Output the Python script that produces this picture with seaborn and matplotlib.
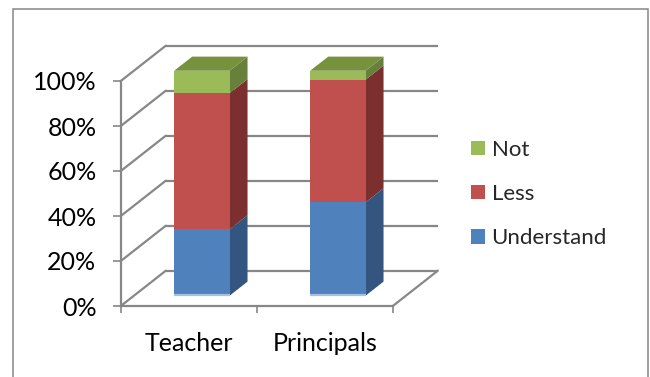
import matplotlib
matplotlib.use("Agg")
import matplotlib.pyplot as plt
import numpy as np
import pandas as pd
import seaborn as sns
from matplotlib.patches import Polygon, Rectangle
from matplotlib.transforms import Affine2D

# ---- data -------------------------------------------------------------
groups = ["Teacher", "Principals"]
understand = [29.5, 41.5]
less = [60.5, 54.5]
not_ = [10.0, 4.0]
series_names = ["Understand", "Less", "Not"]
ytick_values = [0, 20, 40, 60, 80, 100]
ytick_labels = ["0%", "20%", "40%", "60%", "80%", "100%"]

# ---- styling ----------------------------------------------------------
front_colors = {"Understand": "#4F81BD", "Less": "#C0504D", "Not": "#9BBB59"}
side_colors = {"Understand": "#34557F", "Less": "#7B2F2E", "Not": "#67803A"}
top_colors = {"Understand": "#3F6797", "Less": "#9A3C3A", "Not": "#76923C"}
grid_color = "#878787"

sns.set_theme(style="white")
plt.rcParams["font.family"] = ["Lato", "DejaVu Sans"]

W, H = 650, 377
fig = plt.figure(figsize=(W / 100, H / 100), dpi=100)
ax = fig.add_axes([0, 0, 1, 1])

# pseudo-3D oblique projection parameters (data units)
DX, DY = 0.331, 15.7          # full floor depth offset
D0, D1 = 0.29, 0.69           # bar front / back depth fractions
BAR_W = 0.407
X_LEFT, X_RIGHT = -0.5, 1.5

df = pd.DataFrame({"group": groups, "Understand": understand,
                   "Less": less, "Not": not_})
df["c_understand"] = df["Understand"]
df["c_less"] = df["c_understand"] + df["Less"]
df["c_not"] = df["c_less"] + df["Not"]

# ---- walls and floor --------------------------------------------------
for t in ytick_values:
    ax.plot([X_LEFT + DX, X_RIGHT + DX], [t + DY, t + DY],
            color=grid_color, lw=1.6, zorder=1, solid_capstyle="butt")
    ax.plot([X_LEFT, X_LEFT + DX], [t, t + DY],
            color=grid_color, lw=1.6, zorder=1)
ax.plot([X_RIGHT, X_RIGHT + DX], [0, DY], color=grid_color, lw=1.6, zorder=1)

# ---- bars (front faces) -------------------------------------------------
n_before = len(ax.patches)
for col, name in [("c_not", "Not"), ("c_less", "Less"), ("c_understand", "Understand")]:
    sns.barplot(data=df, x="group", y=col, color=front_colors[name],
                saturation=1, width=BAR_W, ax=ax, label=name,
                edgecolor="none", linewidth=0, zorder=3)
shift = Affine2D().translate(DX * D0, DY * D0) + ax.transData
for p in ax.patches[n_before:]:
    p.set_transform(shift)

# thin light rim along the bottom edge of each bar
for i in range(len(groups)):
    ax.plot([i - BAR_W / 2, i + BAR_W / 2], [0.4, 0.4], color="#A8C0E0",
            lw=1.6, zorder=3.5, solid_capstyle="butt", transform=shift)

# ---- bars (side and top faces) ------------------------------------------
for i in range(len(groups)):
    bottom = 0.0
    xr = i + BAR_W / 2
    xl = i - BAR_W / 2
    for name in series_names:
        val = df.loc[i, name]
        top = bottom + val
        side = [(xr + DX * D0, bottom + DY * D0), (xr + DX * D0, top + DY * D0),
                (xr + DX * D1, top + DY * D1), (xr + DX * D1, bottom + DY * D1)]
        ax.add_patch(Polygon(side, closed=True, fc=side_colors[name],
                             ec="none", zorder=2.5))
        bottom = top
    last = series_names[-1]
    topface = [(xl + DX * D0, bottom + DY * D0), (xr + DX * D0, bottom + DY * D0),
               (xr + DX * D1, bottom + DY * D1), (xl + DX * D1, bottom + DY * D1)]
    ax.add_patch(Polygon(topface, closed=True, fc=top_colors[last],
                         ec="none", zorder=2.5))

# ---- axes -------------------------------------------------------------
ax.set_xlim(-188.8 / 136, (W - 188.8) / 136)
ax.set_ylim((306 - H) / 2.25, 306 / 2.25)
ax.set_xlabel("")
ax.set_ylabel("")

for s in ["top", "right"]:
    ax.spines[s].set_visible(False)
ax.spines["left"].set_position(("data", X_LEFT))
ax.spines["left"].set_bounds(0, 100)
ax.spines["bottom"].set_position(("data", 0))
ax.spines["bottom"].set_bounds(X_LEFT, X_RIGHT)
for s in ["left", "bottom"]:
    ax.spines[s].set_color(grid_color)
    ax.spines[s].set_linewidth(1.6)
    ax.spines[s].set_zorder(1)

ax.set_yticks(ytick_values)
ax.set_yticklabels(ytick_labels)
ax.set_xticks(range(len(groups)))
ax.set_xticklabels(groups)
ax.set_xticks([X_LEFT, 0.5, X_RIGHT], minor=True)
ax.tick_params(axis="y", which="major", direction="out", length=5.5,
               width=1.2, color=grid_color, pad=12, labelsize=18,
               labelcolor="black", left=True)
ax.tick_params(axis="x", which="major", length=0, pad=19, labelsize=18,
               labelcolor="black")
ax.tick_params(axis="x", which="minor", direction="out", length=5,
               width=1.2, color=grid_color, bottom=True)
ax.set_facecolor("white")

# ---- legend -----------------------------------------------------------
handles, labels = ax.get_legend_handles_labels()
ax.legend(handles, labels, loc="center left",
          bbox_to_anchor=(460 / W, 1 - 194 / H), frameon=False,
          fontsize=16, borderpad=0, handlelength=0.62, handleheight=0.62,
          handletextpad=0.3, labelspacing=1.1)

# ---- chart frame ------------------------------------------------------
fig.patches.append(Rectangle((12.5 / W, -0.1), 635 / W, (H - 9.5) / H + 0.1,
                             transform=fig.transFigure, fill=False,
                             ec="#868686", lw=1.1))

fig.savefig("out.png", dpi=100)
